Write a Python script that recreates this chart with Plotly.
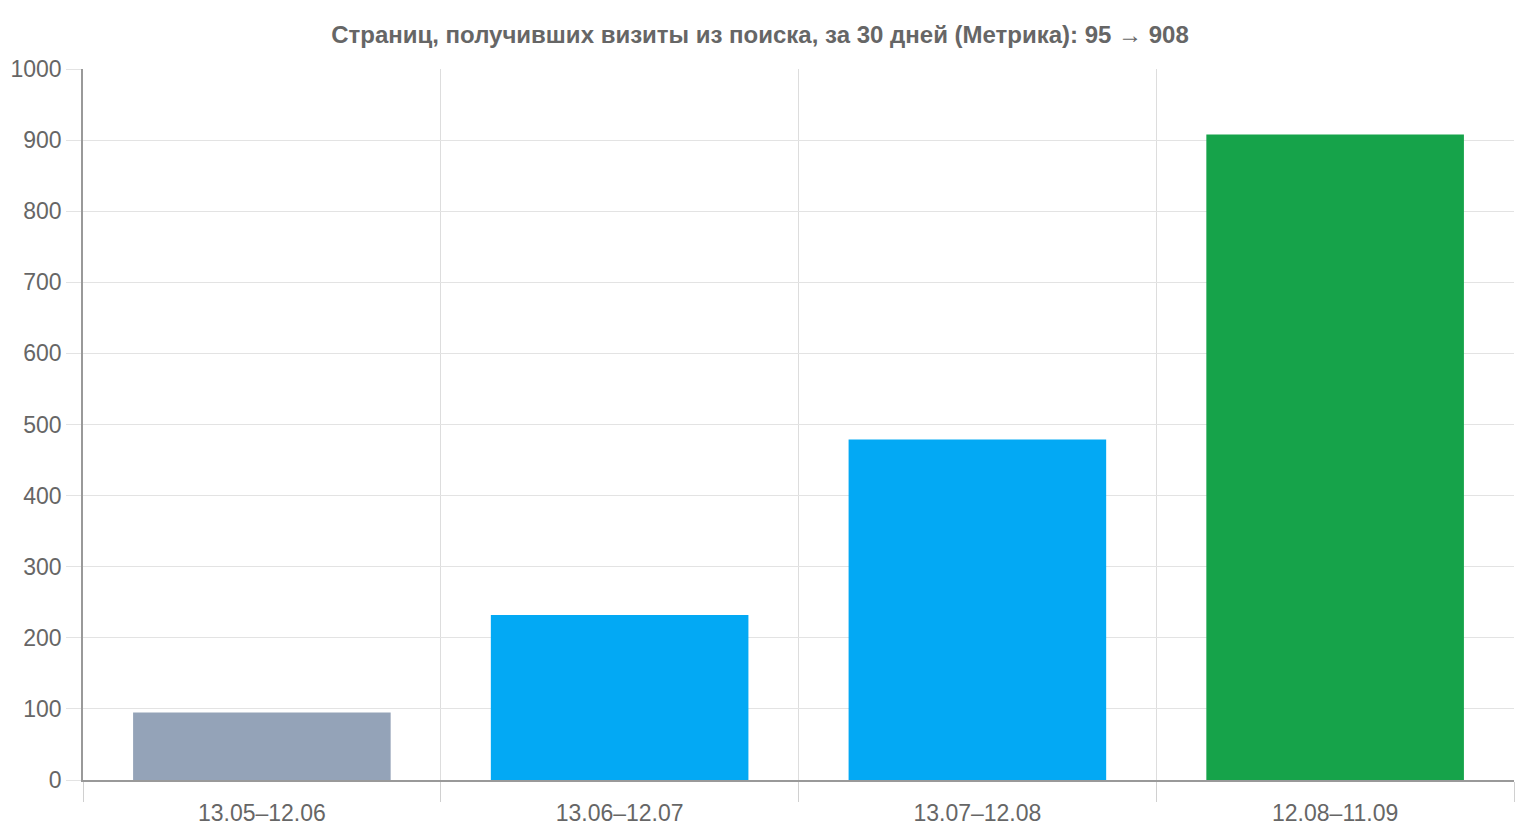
import plotly.graph_objects as go

# периоды (30 дней) и число страниц с визитами из поиска
periods = ["13.05–12.06", "13.06–12.07", "13.07–12.08", "12.08–11.09"]
pages = [95, 232, 479, 908]
bar_colors = ["#94A3B8", "#03A9F4", "#03A9F4", "#16A34A"]
y_ticks = list(range(0, 1001, 100))

title_text = "Страниц, получивших визиты из поиска, за 30 дней (Метрика): 95 → 908"

fig = go.Figure(
    go.Bar(
        x=periods,
        y=pages,
        marker=dict(color=bar_colors, line=dict(width=0)),
        hoverinfo="x+y",
    )
)

fig.update_layout(
    width=1520,
    height=840,
    margin=dict(l=83, r=6, t=69, b=60),
    paper_bgcolor="white",
    plot_bgcolor="white",
    bargap=0.28,
    showlegend=False,
    font=dict(family="Liberation Sans, Arial, sans-serif", color="#666666", size=23),
    title=dict(
        text="<b>" + title_text + "</b>",
        x=0.5,
        xanchor="center",
        y=0.959,
        yanchor="middle",
        font=dict(family="Liberation Sans Narrow, Arial Narrow, sans-serif", size=24, color="#666666"),
    ),
)

fig.update_xaxes(
    type="category",
    tickson="boundaries",
    ticks="outside",
    ticklen=20,
    tickcolor="#d0d0d0",
    ticklabelstandoff=12,
    showgrid=True,
    gridcolor="#dddddd",
    gridwidth=1,
    showline=True,
    linecolor="#999999",
    linewidth=1.5,
    tickfont=dict(size=23, color="#666666"),
)

fig.update_yaxes(
    range=[0, 1000],
    tickvals=y_ticks,
    ticks="outside",
    ticklen=15,
    tickcolor="#e3e3e3",
    ticklabelstandoff=0,
    showgrid=True,
    gridcolor="#e3e3e3",
    gridwidth=1,
    showline=True,
    linecolor="#999999",
    linewidth=1.5,
    zeroline=False,
    tickfont=dict(size=23, color="#666666"),
)

# убираем стандартный отступ страницы, чтобы график встал ровно в окно
fig.write_html(
    "out.html",
    config={"displayModeBar": False},
    post_script="document.body.style.margin='0';",
)
